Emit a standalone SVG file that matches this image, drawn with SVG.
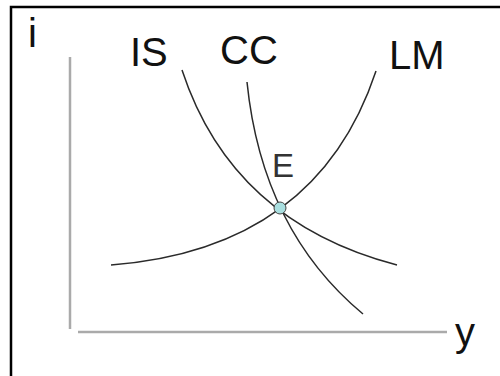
<svg xmlns="http://www.w3.org/2000/svg" width="500" height="376" viewBox="0 0 500 376">
<style>
.lbl{font-family:"Liberation Sans",Arial,sans-serif;font-size:40px;fill:#111}
.curve{fill:none;stroke:#2a2a2a;stroke-width:1.5}
.axis{fill:none;stroke:#aaaaaa;stroke-width:2.5}
</style>
<rect width="500" height="376" fill="#ffffff"/>
<path d="M11,376 V7 H500" fill="none" stroke="#000" stroke-width="2.5"/>
<g id="axes">
<line class="axis" x1="70" y1="57" x2="70" y2="329"/>
<line class="axis" x1="78" y1="332" x2="447" y2="332" stroke-width="3"/>
<text class="lbl" x="28" y="47">i</text>
<text class="lbl" x="455" y="346">y</text>
</g>
<g id="connectors">
<path id="IS-curve" class="curve" d="M182,70 Q232,222 397,265"/>
<path id="CC-curve" class="curve" d="M247,82 Q262,230 363,314"/>
<path id="LM-curve" class="curve" d="M111,265 Q317,249 376,71"/>
</g>
<g id="IS"><text class="lbl" x="130" y="66">IS</text></g>
<g id="CC"><text class="lbl" x="220" y="64">CC</text></g>
<g id="LM"><text class="lbl" x="389" y="69">LM</text></g>
<g id="E">
<text class="lbl" x="272" y="177" style="font-size:33px;fill:#333">E</text>
<circle cx="280" cy="208" r="6" fill="#a9dfe0" stroke="#444" stroke-width="1"/>
</g>
</svg>
